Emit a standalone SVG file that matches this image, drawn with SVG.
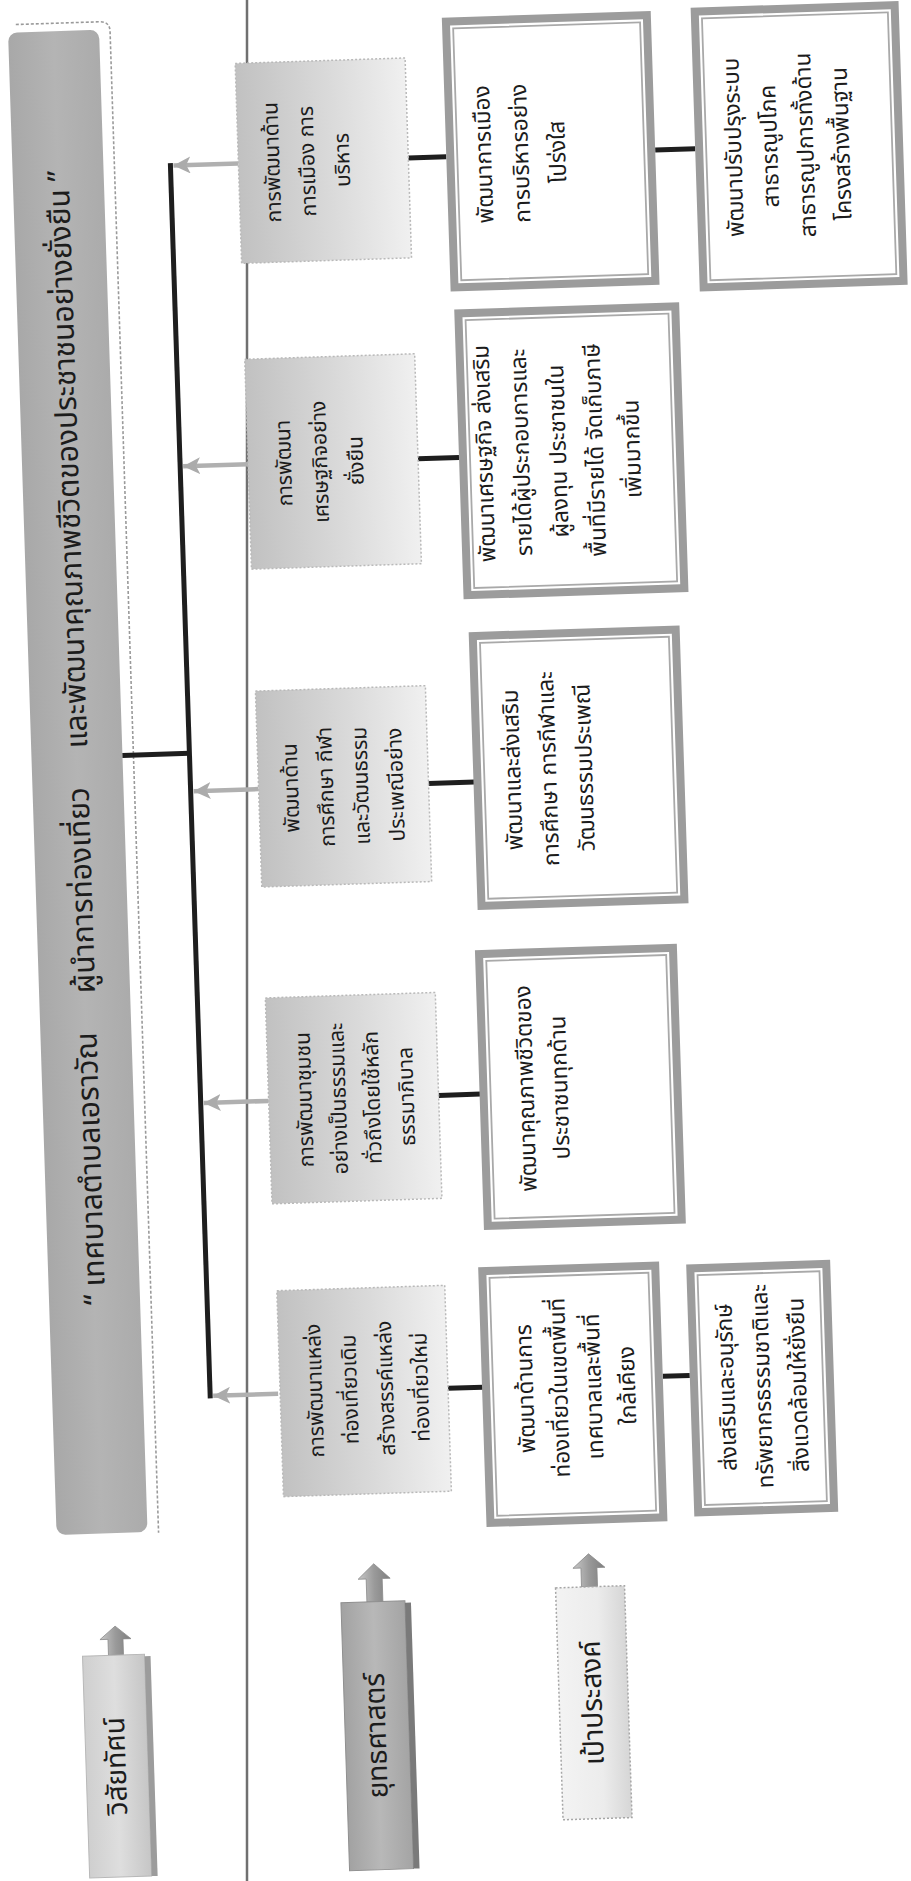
<svg xmlns="http://www.w3.org/2000/svg" width="911" height="1881" viewBox="0 0 911 1881">
<defs>
  <linearGradient id="gS" x1="0" y1="0" x2="1" y2="0">
    <stop offset="0" stop-color="#c1c1c1"/><stop offset="0.55" stop-color="#dadada"/><stop offset="1" stop-color="#f0f0f0"/>
  </linearGradient>
  <linearGradient id="gBan" x1="0" y1="0" x2="1" y2="0">
    <stop offset="0" stop-color="#a8a8a8"/><stop offset="0.5" stop-color="#b4b4b4"/><stop offset="1" stop-color="#ababab"/>
  </linearGradient>
  <linearGradient id="gVis" x1="0" y1="0" x2="1" y2="0">
    <stop offset="0" stop-color="#cfcfcf"/><stop offset="0.5" stop-color="#dedede"/><stop offset="1" stop-color="#c6c6c6"/>
  </linearGradient>
  <linearGradient id="gYut" x1="0" y1="0" x2="1" y2="0">
    <stop offset="0" stop-color="#a2a2a2"/><stop offset="0.5" stop-color="#b8b8b8"/><stop offset="1" stop-color="#a4a4a4"/>
  </linearGradient>
  <linearGradient id="gGoal" x1="0" y1="0" x2="1" y2="0">
    <stop offset="0" stop-color="#f3f3f3"/><stop offset="0.6" stop-color="#ececec"/><stop offset="1" stop-color="#d6d6d6"/>
  </linearGradient>
  <linearGradient id="gArr" x1="0" y1="0" x2="1" y2="0">
    <stop offset="0" stop-color="#c9c9c9"/><stop offset="0.5" stop-color="#9a9a9a"/><stop offset="1" stop-color="#7e7e7e"/>
  </linearGradient>
  <marker id="ah" viewBox="0 0 10 10" refX="10" refY="5" markerUnits="userSpaceOnUse" markerWidth="17" markerHeight="17" orient="auto">
    <path d="M0,0 L10,5 L0,10 L2.5,5 z" fill="#ababab"/>
  </marker>
</defs>
<style>
  .t{font-family:"Noto Sans Thai","Noto Sans","DejaVu Sans",sans-serif;fill:#1c1c1c;text-anchor:middle;dominant-baseline:central}
  .s{font-size:21px}
  .g{font-size:22.5px}
  .lab{font-size:28px}
  .ban{font-size:30px}
  .sbox{fill:url(#gS);stroke:#b9b9b9;stroke-width:1.5;stroke-dasharray:2 2}
  .gout{fill:#ffffff;stroke:#9c9c9c;stroke-width:8}
  .gin{fill:none;stroke:#a9a9a9;stroke-width:1.8}
  .blk{stroke:#1e1e1e;stroke-width:5;fill:none}
  .arr{stroke:#b0b0b0;stroke-width:4.5;fill:none;marker-end:url(#ah)}
  .up{fill:url(#gArr);stroke:#8a8a8a;stroke-width:0.8}
  .sep{stroke:#707070;stroke-width:2.5}
</style>

<line class="sep" x1="247" y1="0" x2="247" y2="1881"/>

<g transform="rotate(-1.85)">
  <!-- vision banner -->
  <g id="vision-banner">
    <path d="M15,25 H99 Q109,25 109,35 V1537" fill="none" stroke="#9a9a9a" stroke-width="1.6" stroke-dasharray="3 2"/>
    <rect x="7" y="33" width="91" height="1503" rx="9" fill="url(#gBan)"/>
    <g transform="translate(54 740) rotate(-90)">
      <text class="t ban" x="0" y="0">“ เทศบาลตำบลเอราวัณ&#160;&#160;&#160;&#160; ผู้นำการท่องเที่ยว&#160;&#160;&#160;&#160; และพัฒนาคุณภาพชีวิตของประชาชนอย่างยั่งยืน ”</text>
    </g>
  </g>

  <g id="connectors">
    <line class="blk" x1="98" y1="759" x2="165" y2="759"/>
    <line class="blk" x1="165" y1="168.5" x2="165" y2="1404.5"/>
    <line class="arr" x1="233" y1="171" x2="168" y2="171"/>
    <line class="arr" x1="233" y1="472" x2="168" y2="472"/>
    <line class="arr" x1="233" y1="797" x2="168" y2="797"/>
    <line class="arr" x1="233" y1="1109" x2="168" y2="1109"/>
    <line class="arr" x1="233" y1="1402" x2="168" y2="1402"/>
    <line class="blk" x1="403" y1="171" x2="441" y2="171"/>
    <line class="blk" x1="403" y1="472" x2="444" y2="472"/>
    <line class="blk" x1="403" y1="797" x2="449" y2="797"/>
    <line class="blk" x1="403" y1="1109" x2="445" y2="1109"/>
    <line class="blk" x1="403" y1="1402" x2="438" y2="1402"/>
    <line class="blk" x1="650" y1="171" x2="690" y2="171"/>
    <line class="blk" x1="618" y1="1397" x2="645" y2="1397"/>
  </g>

  <!-- strategy boxes -->
  <g id="s5">
    <rect class="sbox" x="233" y="71" width="170" height="200"/>
    <g transform="translate(302 171) rotate(-90)"><text class="t s"><tspan x="0" y="-35">การพัฒนาด้าน</tspan><tspan x="0" y="0">การเมือง การ</tspan><tspan x="0" y="35">บริหาร</tspan></text></g>
  </g>
  <g id="s4">
    <rect class="sbox" x="233" y="367" width="170" height="210"/>
    <g transform="translate(305 472) rotate(-90)"><text class="t s"><tspan x="0" y="-36">การพัฒนา</tspan><tspan x="0" y="0">เศรษฐกิจอย่าง</tspan><tspan x="0" y="36">ยั่งยืน</tspan></text></g>
  </g>
  <g id="s3">
    <rect class="sbox" x="233" y="699" width="170" height="196"/>
    <g transform="translate(318 797) rotate(-90)"><text class="t s"><tspan x="0" y="-52.5">พัฒนาด้าน</tspan><tspan x="0" y="-17.5">การศึกษา กีฬา</tspan><tspan x="0" y="17.5">และวัฒนธรรม</tspan><tspan x="0" y="52.5">ประเพณีอย่าง</tspan></text></g>
  </g>
  <g id="s2">
    <rect class="sbox" x="233" y="1006" width="170" height="206"/>
    <g transform="translate(320 1109) rotate(-90)"><text class="t s"><tspan x="0" y="-51">การพัฒนาชุมชน</tspan><tspan x="0" y="-17">อย่างเป็นธรรมและ</tspan><tspan x="0" y="17">ทั่วถึงโดยใช้หลัก</tspan><tspan x="0" y="51">ธรรมาภิบาล</tspan></text></g>
  </g>
  <g id="s1">
    <rect class="sbox" x="235" y="1299" width="168" height="206"/>
    <g transform="translate(323 1400) rotate(-90)"><text class="t s"><tspan x="0" y="-53">การพัฒนาแหล่ง</tspan><tspan x="0" y="-18">ท่องเที่ยวเดิม</tspan><tspan x="0" y="18">สร้างสรรค์แหล่ง</tspan><tspan x="0" y="53">ท่องเที่ยวใหม่</tspan></text></g>
  </g>

  <!-- goal boxes -->
  <g id="g6">
    <rect class="gout" x="445" y="36" width="201" height="266"/>
    <rect class="gin" x="452" y="43" width="187" height="252"/>
    <g transform="translate(516 170) rotate(-90)"><text class="t g"><tspan x="0" y="-37">พัฒนาการเมือง</tspan><tspan x="0" y="0">การบริหารอย่าง</tspan><tspan x="0" y="37">โปร่งใส</tspan></text></g>
  </g>
  <g id="g7">
    <rect class="gout" x="694" y="34" width="200" height="276"/>
    <rect class="gin" x="701" y="41" width="186" height="262"/>
    <g transform="translate(783 171) rotate(-90)"><text class="t g"><tspan x="0" y="-54">พัฒนาปรับปรุงระบบ</tspan><tspan x="0" y="-18">สาธารณูปโภค</tspan><tspan x="0" y="18">สาธารณูปการทั้งด้าน</tspan><tspan x="0" y="54">โครงสร้างพื้นฐาน</tspan></text></g>
  </g>
  <g id="g5">
    <rect class="gout" x="448" y="328" width="217" height="282"/>
    <rect class="gin" x="455" y="335" width="203" height="268"/>
    <g transform="translate(544 469) rotate(-90)"><text class="t g"><tspan x="0" y="-74">พัฒนาเศรษฐกิจ ส่งเสริม</tspan><tspan x="0" y="-37">รายได้ผู้ประกอบการและ</tspan><tspan x="0" y="0">ผู้ลงทุน ประชาชนใน</tspan><tspan x="0" y="37">พื้นที่มีรายได้ จัดเก็บภาษี</tspan><tspan x="0" y="74">เพิ่มมากขึ้น</tspan></text></g>
  </g>
  <g id="g4">
    <rect class="gout" x="452" y="651" width="203" height="270"/>
    <rect class="gin" x="459" y="658" width="189" height="256"/>
    <g transform="translate(524 786) rotate(-90)"><text class="t g"><tspan x="0" y="-36">พัฒนาและส่งเสริม</tspan><tspan x="0" y="0">การศึกษา การกีฬาและ</tspan><tspan x="0" y="36">วัฒนธรรมประเพณี</tspan></text></g>
  </g>
  <g id="g3">
    <rect class="gout" x="448" y="969" width="194" height="272"/>
    <rect class="gin" x="455" y="976" width="180" height="258"/>
    <g transform="translate(508 1105) rotate(-90)"><text class="t g"><tspan x="0" y="-17">พัฒนาคุณภาพชีวิตของ</tspan><tspan x="0" y="17">ประชาชนทุกด้าน</tspan></text></g>
  </g>
  <g id="g1">
    <rect class="gout" x="441" y="1286" width="173" height="252"/>
    <rect class="gin" x="448" y="1293" width="159" height="238"/>
    <g transform="translate(532 1405) rotate(-90)"><text class="t g"><tspan x="0" y="-51">พัฒนาด้านการ</tspan><tspan x="0" y="-17">ท่องเที่ยวในเขตพื้นที่</tspan><tspan x="0" y="17">เทศบาลและพื้นที่</tspan><tspan x="0" y="51">ใกล้เคียง</tspan></text></g>
  </g>
  <g id="g2">
    <rect class="gout" x="649" y="1290" width="136" height="244"/>
    <rect class="gin" x="656" y="1297" width="122" height="230"/>
    <g transform="translate(718 1410) rotate(-90)"><text class="t g"><tspan x="0" y="-36">ส่งเสริมและอนุรักษ์</tspan><tspan x="0" y="0">ทรัพยากรธรรมชาติและ</tspan><tspan x="0" y="36">สิ่งแวดล้อมให้ยั่งยืน</tspan></text></g>
  </g>

  <!-- row labels -->
  <g id="label-vision">
    <path class="up" d="M55,1658 V1642 H47 L62.5,1629 L78,1642 H70 V1658 Z"/>
    <rect x="29" y="1658" width="62" height="222" fill="url(#gVis)" stroke="#b8b8b8" stroke-width="1"/>
    <rect x="91" y="1660" width="6" height="220" fill="#9c9c9c"/>
    <g transform="translate(60 1769) rotate(-90)"><text class="t lab" x="0" y="0">วิสัยทัศน์</text></g>
  </g>
  <g id="label-strategy">
    <path class="up" d="M315,1613 V1590 H307 L323,1575 L339,1590 H331 V1613 Z"/>
    <rect x="289" y="1613" width="64" height="268" fill="url(#gYut)" stroke="#8f8f8f" stroke-width="1"/>
    <rect x="353" y="1615" width="6" height="266" fill="#7a7a7a"/>
    <g transform="translate(321 1747) rotate(-90)"><text class="t lab" x="0" y="0">ยุทธศาสตร์</text></g>
  </g>
  <g id="label-goal">
    <path class="up" d="M530,1605 V1586 H522 L538,1572 L554,1586 H546 V1605 Z"/>
    <rect x="504" y="1605" width="69" height="232" fill="url(#gGoal)" stroke="#a6a6a6" stroke-width="1.5" stroke-dasharray="2 2"/>
    <g transform="translate(538 1721) rotate(-90)"><text class="t lab" x="0" y="0">เป้าประสงค์</text></g>
  </g>
</g>
</svg>
